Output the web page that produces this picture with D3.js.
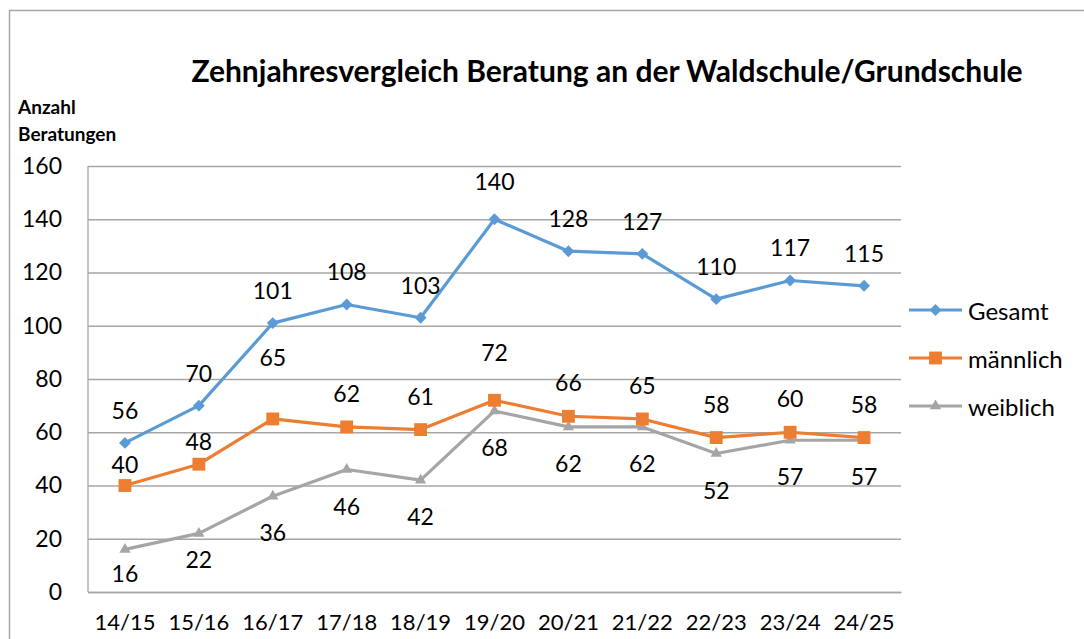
<!DOCTYPE html>
<html>
<head>
<meta charset="utf-8">
<script src="https://cdn.jsdelivr.net/npm/d3@7"></script>
<style>
  body { margin: 0; background: #fff; }
  text { font-family: Lato, "Open Sans", sans-serif; fill: #000; }
</style>
</head>
<body>
<div id="wrapper"></div>
<script>
// data
const categories = ["14/15", "15/16", "16/17", "17/18", "18/19", "19/20", "20/21", "21/22", "22/23", "23/24", "24/25"];
const gesamt    = [56, 70, 101, 108, 103, 140, 128, 127, 110, 117, 115];
const maennlich = [40, 48, 65, 62, 61, 72, 66, 65, 58, 60, 58];
const weiblich  = [16, 22, 36, 46, 42, 68, 62, 62, 52, 57, 57];
const yTicks = [0, 20, 40, 60, 80, 100, 120, 140, 160];

const series = [
  { name: "Gesamt",    values: gesamt,    color: "#5b9bd5", marker: "diamond",  labelDy: -33 },
  { name: "männlich",  values: maennlich, color: "#ed7d31", marker: "square",   labelDy: -34 },
  { name: "weiblich",  values: weiblich,  color: "#a5a5a5", marker: "triangle", labelDy: 36 },
];
// hand placed labels in the original (index -> extra shift)
const labelNudge = {
  "Gesamt":   { 5: -5 },
  "männlich": { 0: 12, 1: 11, 2: -28, 5: -14 },
  "weiblich": { 0: -12, 1: -10 },
};

function draw() {
  const width = 1084, height = 639;
  const plot = { left: 88, right: 901, top: 166, bottom: 592 };

  const svg = d3.select("#wrapper").append("svg")
      .attr("width", width)
      .attr("height", height);

  // outer chart border (runs off the picture right and bottom)
  svg.append("rect")
      .attr("x", 9.5).attr("y", 10.5)
      .attr("width", 1200).attr("height", 800)
      .attr("fill", "none")
      .attr("stroke", "#a6a6a6")
      .attr("stroke-width", 1.5);

  const xScale = d3.scaleBand()
    .domain(categories)
    .range([plot.left, plot.right]);
  const cx = d => xScale(d) + xScale.bandwidth() / 2;

  const yScale = d3.scaleLinear()
    .domain([0, 160])
    .range([plot.bottom, plot.top]);

  // gridlines + y axis
  const yAxis = svg.append("g")
      .attr("transform", `translate(${plot.left},0)`)
      .call(d3.axisLeft(yScale).tickValues(yTicks).tickSize(-(plot.right - plot.left)).tickPadding(26))
  yAxis.select(".domain").remove();
  yAxis.selectAll(".tick line").attr("stroke", "#a6a6a6").attr("stroke-width", 1.3);
  yAxis.selectAll(".tick text")
      .style("font-size", "23px")
      .style("font-family", "Lato, sans-serif");

  svg.append("line")
      .attr("x1", plot.left).attr("x2", plot.left)
      .attr("y1", plot.top).attr("y2", plot.bottom)
      .attr("stroke", "#a6a6a6").attr("stroke-width", 1.3);

  const xAxis = svg.append("g")
      .attr("transform", `translate(0,${plot.bottom})`)
      .call(d3.axisBottom(xScale).tickSize(0).tickPadding(22));
  xAxis.select(".domain").attr("stroke", "#a6a6a6").attr("stroke-width", 1.3);
  xAxis.selectAll(".tick text")
      .style("font-size", "22px")
      .style("font-family", "Lato, sans-serif");

  // title + axis title
  svg.append("text")
      .attr("x", 607).attr("y", 82)
      .attr("text-anchor", "middle")
      .style("font-size", "30px")
      .style("font-weight", "bold")
      .text("Zehnjahresvergleich Beratung an der Waldschule/Grundschule");

  svg.append("text")
      .attr("x", 18).attr("y", 114)
      .style("font-size", "19px").style("font-weight", "bold")
      .text("Anzahl");
  svg.append("text")
      .attr("x", 18).attr("y", 141)
      .style("font-size", "19px").style("font-weight", "bold")
      .text("Beratungen");

  const markerPath = {
    diamond:  d3.symbol(d3.symbolDiamond2, 90)(),
    square:   d3.symbol(d3.symbolSquare2, 210)(),
    triangle: d3.symbol(d3.symbolTriangle2, 90)(),
  };

  const line = d3.line()
    .x((d, i) => cx(categories[i]))
    .y(d => yScale(d));

  // draw weiblich first so it sits under the others
  const order = [series[2], series[1], series[0]];
  order.forEach(s => {
    const g = svg.append("g");
    g.append("path")
        .attr("d", line(s.values))
        .attr("fill", "none")
        .attr("stroke", s.color)
        .attr("stroke-width", 3.2)
        .attr("stroke-linejoin", "round");
    g.selectAll(".marker")
      .data(s.values)
      .join("path")
        .attr("class", "marker")
        .attr("d", markerPath[s.marker])
        .attr("transform", (d, i) => `translate(${cx(categories[i])},${yScale(d)})`)
        .attr("fill", s.color);
  });

  series.forEach(s => {
    svg.append("g").selectAll("text")
      .data(s.values)
      .join("text")
        .attr("x", (d, i) => cx(categories[i]))
        .attr("y", (d, i) => yScale(d) + s.labelDy + ((labelNudge[s.name] || {})[i] || 0))
        .attr("text-anchor", "middle")
        .attr("dominant-baseline", "central")
        .style("font-size", "23px")
        .text(d => d);
  });

  // legend
  const legend = svg.append("g")
    .selectAll("g")
    .data(series)
    .join("g")
      .attr("transform", (d, i) => `translate(909,${310 + i * 48})`);
  legend.append("line")
      .attr("x1", 0).attr("x2", 53)
      .attr("stroke", d => d.color)
      .attr("stroke-width", 3.2);
  legend.append("path")
      .attr("d", d => markerPath[d.marker])
      .attr("transform", "translate(26.5,0)")
      .attr("fill", d => d.color);
  legend.append("text")
      .attr("x", 59)
      .attr("dominant-baseline", "central")
      .style("font-size", "24px")
      .text(d => d.name);
}
draw();
</script>
</body>
</html>
